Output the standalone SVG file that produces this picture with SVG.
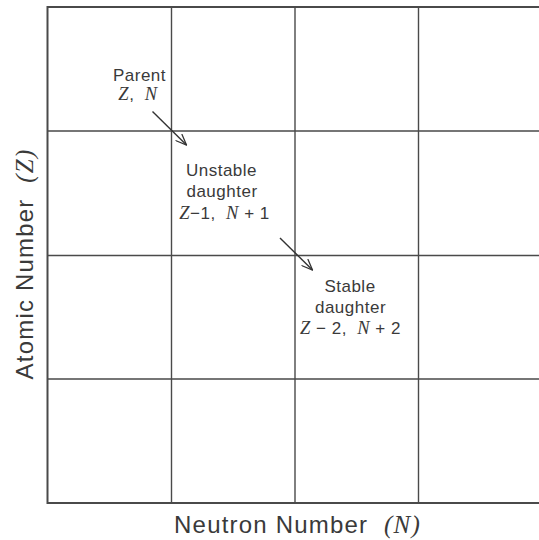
<svg xmlns="http://www.w3.org/2000/svg" width="539" height="540" viewBox="0 0 539 540">
<style>
.grid{stroke:#4a4a4a;stroke-width:1.4;fill:none}
.frame{stroke:#4a4a4a;stroke-width:2;fill:none}
text{white-space:pre}
.lbl{font-family:"Liberation Sans",Arial,sans-serif;font-size:17px;letter-spacing:0.5px;fill:#3a3a3a;text-anchor:middle}
.ax{font-family:"Liberation Sans",Arial,sans-serif;font-size:24px;letter-spacing:1.2px;fill:#3a3a3a;text-anchor:middle}
.it{font-family:"Liberation Serif","Times New Roman",serif;font-style:italic;font-size:18.5px}
.ax .it{font-size:25px}
.arr{stroke:#333;stroke-width:1.4;fill:none}
</style>
<defs>
<marker id="ah" viewBox="0 0 12 10" refX="11" refY="5" markerWidth="12" markerHeight="10" markerUnits="userSpaceOnUse" orient="auto">
<path d="M0,0.5 L11,5 L0,9.5" fill="none" stroke="#333" stroke-width="1.3"/>
</marker>
</defs>
<g id="grid">
<path class="frame" d="M539,7 H47.5 V503 H539"/>
<path class="grid" d="M171.5,7 V503 M295,7 V503 M418.5,7 V503 M47.5,131 H539 M47.5,255.5 H539 M47.5,379 H539"/>
</g>
<g id="connectors">
<line class="arr" x1="152.5" y1="111.5" x2="186.5" y2="145" marker-end="url(#ah)"/>
<line class="arr" x1="280" y1="238" x2="312.5" y2="270" marker-end="url(#ah)"/>
</g>
<g id="parent">
<text class="lbl" x="139.5" y="81">Parent</text>
<text class="lbl" x="138" y="99.5"><tspan class="it">Z</tspan>,  <tspan class="it">N</tspan></text>
</g>
<g id="unstable">
<text class="lbl" x="221.5" y="176">Unstable</text>
<text class="lbl" x="222" y="197">daughter</text>
<text class="lbl" x="224.5" y="218.5"><tspan class="it">Z</tspan>−1,  <tspan class="it">N</tspan> + 1</text>
</g>
<g id="stable">
<text class="lbl" x="350" y="292">Stable</text>
<text class="lbl" x="350.5" y="313">daughter</text>
<text class="lbl" x="350.5" y="333.5"><tspan class="it">Z</tspan> − 2,  <tspan class="it">N</tspan> + 2</text>
</g>
<g id="axes">
<text class="ax" x="297.5" y="533">Neutron Number  <tspan class="it">(N)</tspan></text>
<text class="ax" transform="translate(33,264) rotate(-90)" x="0" y="0">Atomic Number  <tspan class="it">(Z)</tspan></text>
</g>
</svg>
